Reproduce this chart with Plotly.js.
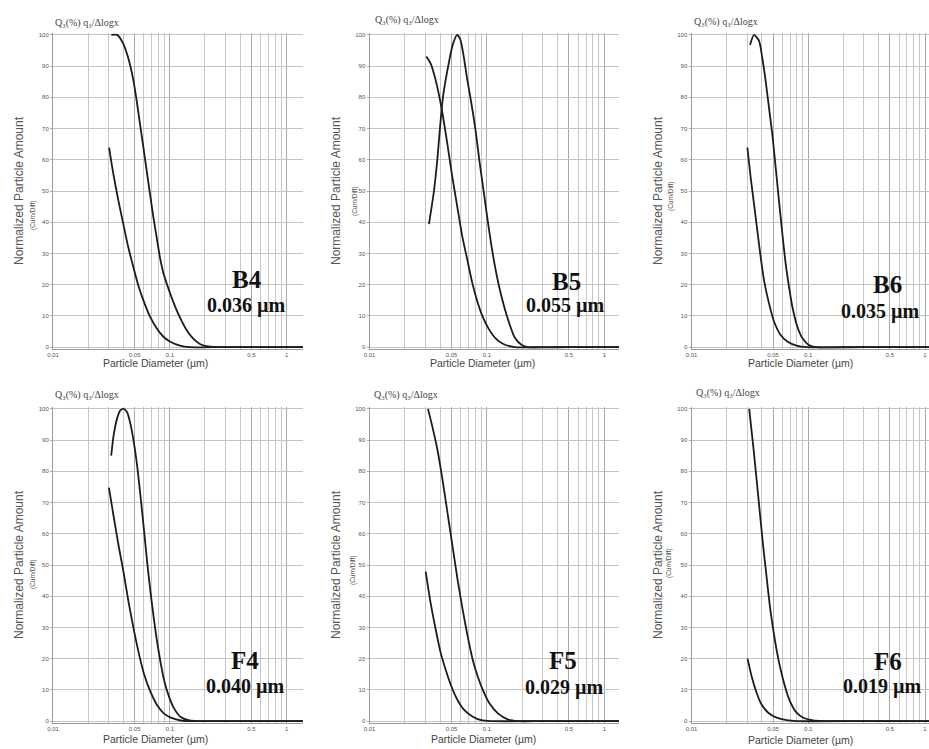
<!DOCTYPE html>
<html><head><meta charset="utf-8">
<script src="https://cdn.plot.ly/plotly-3.0.1.min.js"></script>
<style>html,body{margin:0;padding:0;background:#fff;}#chart{width:929px;height:749px;}</style>
</head><body><div id="chart"></div>
<script>
// ---------------- data ----------------
const panelNames = ['B4', 'B5', 'B6', 'F4', 'F5', 'F6'];
const panelSizes = ['0.036 µm', '0.055 µm', '0.035 µm', '0.040 µm', '0.029 µm', '0.019 µm'];

const xTickVals = [0.01, 0.05, 0.1, 0.5, 1];
const xTickText = ['0.01', '0.05', '0.1', '0.5', '1'];
const yTickVals = [0, 10, 20, 30, 40, 50, 60, 70, 80, 90, 100];

// B4
const b4DiffX = [0.0316, 0.0354, 0.0398, 0.0439, 0.0485, 0.0518, 0.0553, 0.0591, 0.0631, 0.0674, 0.0720, 0.0769, 0.0821, 0.0877, 0.0937, 0.100, 0.107, 0.122, 0.139, 0.158, 0.181, 0.206, 0.251, 0.5, 1.5];
const b4DiffY = [100, 100, 97.3, 92.8, 85.9, 79.4, 72, 64.5, 57, 49.5, 42, 35.5, 29, 24, 20.5, 17.5, 14.5, 9.5, 5.5, 2.8, 1.0, 0.3, 0, 0, 0];
const b4CumX = [0.0302, 0.0327, 0.0361, 0.0398, 0.0439, 0.0485, 0.0535, 0.0591, 0.0674, 0.0769, 0.0877, 0.100, 0.122, 0.148, 0.3, 1.5];
const b4CumY = [63.9, 55.9, 47.3, 39.8, 32.3, 25.9, 20, 15.2, 9.9, 6.1, 3.4, 1.8, 0.5, 0, 0, 0];

// B5
const b5DiffX = [0.0321, 0.0354, 0.0378, 0.0398, 0.0422, 0.0468, 0.0513, 0.0558, 0.0595, 0.0635, 0.0678, 0.0723, 0.0797, 0.0861, 0.0937, 0.102, 0.112, 0.126, 0.148, 0.173, 0.198, 0.225, 0.5, 1.5];
const b5DiffY = [39.4, 50, 60, 70, 80, 90, 97, 100, 98.4, 93, 86, 80, 70, 60, 50, 40, 30, 20, 10, 3, 0.7, 0, 0, 0];
const b5CumX = [0.0305, 0.0332, 0.0366, 0.0411, 0.0459, 0.0506, 0.0558, 0.0615, 0.0678, 0.0747, 0.0823, 0.0907, 0.103, 0.118, 0.138, 0.173, 0.3, 1.5];
const b5CumY = [93.1, 90.8, 85.5, 76.5, 65.4, 54.8, 45.2, 35.7, 28.3, 20.9, 15, 10.3, 6, 2.9, 1, 0, 0, 0];

// B6
const b6DiffX = [0.0317, 0.0343, 0.0379, 0.0404, 0.0432, 0.0461, 0.0492, 0.0526, 0.0561, 0.0600, 0.0640, 0.0684, 0.0730, 0.0805, 0.0889, 0.101, 0.119, 0.3, 1.5];
const b6DiffY = [96.8, 100, 98.1, 92.6, 85.1, 76.6, 68.2, 57.5, 46.9, 36.3, 26.8, 19.3, 13, 6.6, 2.9, 0.7, 0, 0, 0];
const b6CumX = [0.0301, 0.0321, 0.0343, 0.0366, 0.0391, 0.0418, 0.0461, 0.0509, 0.0580, 0.0662, 0.0805, 0.098, 0.3, 1.5];
const b6CumY = [63.9, 54.4, 45.9, 37.4, 28.9, 21.4, 14, 8.2, 3.9, 1.8, 0.4, 0, 0, 0];

// F4
const f4DiffX = [0.0315, 0.0330, 0.0353, 0.0377, 0.0403, 0.0431, 0.0460, 0.0492, 0.0525, 0.0561, 0.0600, 0.0641, 0.0685, 0.0732, 0.0782, 0.0836, 0.0893, 0.0987, 0.109, 0.124, 0.147, 0.173, 0.3, 1.5];
const f4DiffY = [85, 91.4, 96.8, 99.5, 100, 98.9, 95.2, 89.3, 81.8, 72.1, 61.4, 50.6, 41, 32.4, 24.9, 18.5, 13.1, 7.7, 4, 1.3, 0.2, 0, 0, 0];
const f4CumX = [0.0301, 0.0330, 0.0365, 0.0403, 0.0445, 0.0492, 0.0543, 0.0600, 0.0685, 0.0782, 0.0893, 0.102, 0.124, 0.142, 0.3, 1.5];
const f4CumY = [74.8, 65.7, 56, 47.4, 37.8, 29.2, 21.7, 15.2, 9.3, 5, 2.4, 1.1, 0.2, 0, 0, 0];

// F5
const f5DiffX = [0.0315, 0.0343, 0.0379, 0.0419, 0.0462, 0.0510, 0.0563, 0.0622, 0.0687, 0.0758, 0.0837, 0.0924, 0.105, 0.124, 0.152, 0.185, 0.3, 1.5];
const f5DiffY = [100, 94.3, 86.9, 77.2, 66.6, 55.9, 45.2, 35.6, 27, 19.6, 14.2, 9.9, 5.7, 2.5, 0.5, 0, 0, 0];
const f5CumX = [0.0301, 0.0332, 0.0367, 0.0405, 0.0447, 0.0494, 0.0563, 0.0643, 0.0758, 0.0894, 0.109, 0.3, 1.5];
const f5CumY = [47.9, 37.7, 29.2, 21.7, 16.3, 11.5, 6.7, 3.5, 1.4, 0.3, 0, 0, 0];

// F6
const f6DiffX = [0.0312, 0.0338, 0.0361, 0.0385, 0.0411, 0.0439, 0.0469, 0.0501, 0.0535, 0.0571, 0.0631, 0.0696, 0.0794, 0.0906, 0.110, 0.134, 0.3, 1.5];
const f6DiffY = [100, 88, 77.4, 66.7, 56, 46.4, 36.8, 29.3, 22.9, 17.6, 11.2, 6.4, 2.7, 1.1, 0.2, 0, 0, 0];
const f6CumX = [0.0302, 0.0327, 0.0361, 0.0398, 0.0454, 0.0535, 0.0652, 0.0794, 0.3, 1.5];
const f6CumY = [20, 14.4, 9.1, 5.3, 2.7, 1.1, 0.3, 0, 0, 0];

const seriesX = [[b4DiffX, b4CumX], [b5DiffX, b5CumX], [b6DiffX, b6CumX], [f4DiffX, f4CumX], [f5DiffX, f5CumX], [f6DiffX, f6CumX]];
const seriesY = [[b4DiffY, b4CumY], [b5DiffY, b5CumY], [b6DiffY, b6CumY], [f4DiffY, f4CumY], [f5DiffY, f5CumY], [f6DiffY, f6CumY]];

// ---------------- layout geometry (pixels of the 929x749 canvas) ----------------
const W = 929, H = 749;
const colPx = [[53, 303], [369.5, 619], [691.5, 929]];
const colRange = [[-2, 0.14], [-2, 0.125], [-2, 0.034]];
const rowPx = [[33, 349], [407, 723]]; // top, bottom
const nameLblPx = [[247, 279], [566, 281], [887, 284], [245, 660], [563, 660], [888, 661]];
const sizeLblPx = [[247, 305], [565, 305], [880, 311], [245, 686], [564, 687], [882, 686]];
const qLblPx = [[53, 23], [373, 20], [692, 22], [53, 395], [372, 395], [694, 393]];
const xTitlePx = [[155, 363], [482, 363], [800, 363], [155, 739], [483, 739], [800, 740]];
const subTitlePx = [[33, 215], [355, 201], [671, 196], [33, 574], [353, 570], [669, 563]];

const px = (x) => x / W;
const py = (y) => 1 - y / H;

const traces = [];
const layout = {
  width: W, height: H,
  margin: {l: 0, r: 0, t: 0, b: 0},
  paper_bgcolor: '#ffffff', plot_bgcolor: '#ffffff',
  showlegend: false,
  font: {family: 'Liberation Sans, Arial, sans-serif', color: '#444'},
  annotations: []
};

const serif = 'Liberation Serif, Times New Roman, serif';
const sans = 'Liberation Sans, Arial, sans-serif';

for (let i = 0; i < 6; i++) {
  const col = i % 3, row = Math.floor(i / 3);
  const sfx = i === 0 ? '' : String(i + 1);
  const xa = 'x' + sfx, ya = 'y' + sfx;
  for (let k = 0; k < 2; k++) {
    traces.push({
      type: 'scatter', mode: 'lines',
      x: seriesX[i][k], y: seriesY[i][k],
      xaxis: xa, yaxis: ya,
      line: {color: '#1c1c1c', width: 1.8, shape: 'spline', smoothing: 0.6},
      hoverinfo: 'skip'
    });
  }
  layout['xaxis' + sfx] = {
    type: 'log', range: colRange[col],
    domain: [px(colPx[col][0]), Math.min(1, px(colPx[col][1]))],
    anchor: ya,
    tickmode: 'array', tickvals: xTickVals, ticktext: xTickText,
    tickfont: {size: 6, color: '#555'},
    ticks: '', showline: true, linecolor: '#9a9a9a', linewidth: 1,
    showgrid: true, gridcolor: '#a9a9a9', gridwidth: 1,
    minor: {dtick: 'D1', showgrid: true, gridcolor: '#c6c6c6', gridwidth: 1, ticks: ''},
    zeroline: false, fixedrange: true
  };
  layout['yaxis' + sfx] = {
    range: [-0.6, 100.6],
    domain: [py(rowPx[row][1]), py(rowPx[row][0])],
    anchor: xa,
    tickmode: 'array', tickvals: yTickVals,
    tickfont: {size: 6, color: '#555'},
    ticks: 'outside', ticklen: 2, tickcolor: '#aaa',
    showline: true, linecolor: '#9a9a9a', linewidth: 1,
    showgrid: true, gridcolor: '#c4c4c4', gridwidth: 1,
    zeroline: false, fixedrange: true,
    title: {
      text: 'Normalized Particle Amount',
      font: {size: 12, color: '#555', family: sans},
      standoff: 12
    }
  };
  layout.annotations.push({
    xref: 'paper', yref: 'paper', x: px(subTitlePx[i][0]), y: py(subTitlePx[i][1]),
    xanchor: 'center', yanchor: 'middle', showarrow: false, textangle: -90,
    text: '(Cum/Diff)',
    font: {family: sans, size: 6.5, color: '#555'}
  });
  layout.annotations.push({
    xref: 'paper', yref: 'paper', x: px(nameLblPx[i][0]), y: py(nameLblPx[i][1]),
    xanchor: 'center', yanchor: 'middle', showarrow: false,
    text: panelNames[i],
    font: {family: serif, size: 25, color: '#111', weight: 'bold'}
  });
  layout.annotations.push({
    xref: 'paper', yref: 'paper', x: px(sizeLblPx[i][0]), y: py(sizeLblPx[i][1]),
    xanchor: 'center', yanchor: 'middle', showarrow: false,
    text: panelSizes[i],
    font: {family: serif, size: 20, color: '#111', weight: 'bold'}
  });
  layout.annotations.push({
    xref: 'paper', yref: 'paper', x: px(qLblPx[i][0]), y: py(qLblPx[i][1]),
    xanchor: 'left', yanchor: 'middle', showarrow: false,
    text: 'Q₃(%) q₃/Δlogx',
    font: {family: serif, size: 10, color: '#444'}
  });
  layout.annotations.push({
    xref: 'paper', yref: 'paper', x: px(xTitlePx[i][0]), y: py(xTitlePx[i][1]),
    xanchor: 'center', yanchor: 'middle', showarrow: false,
    text: 'Particle Diameter (µm)',
    font: {family: sans, size: 10.5, color: '#444'}
  });
}

Plotly.newPlot('chart', traces, layout, {displayModeBar: false, staticPlot: true});
</script>
</body></html>
